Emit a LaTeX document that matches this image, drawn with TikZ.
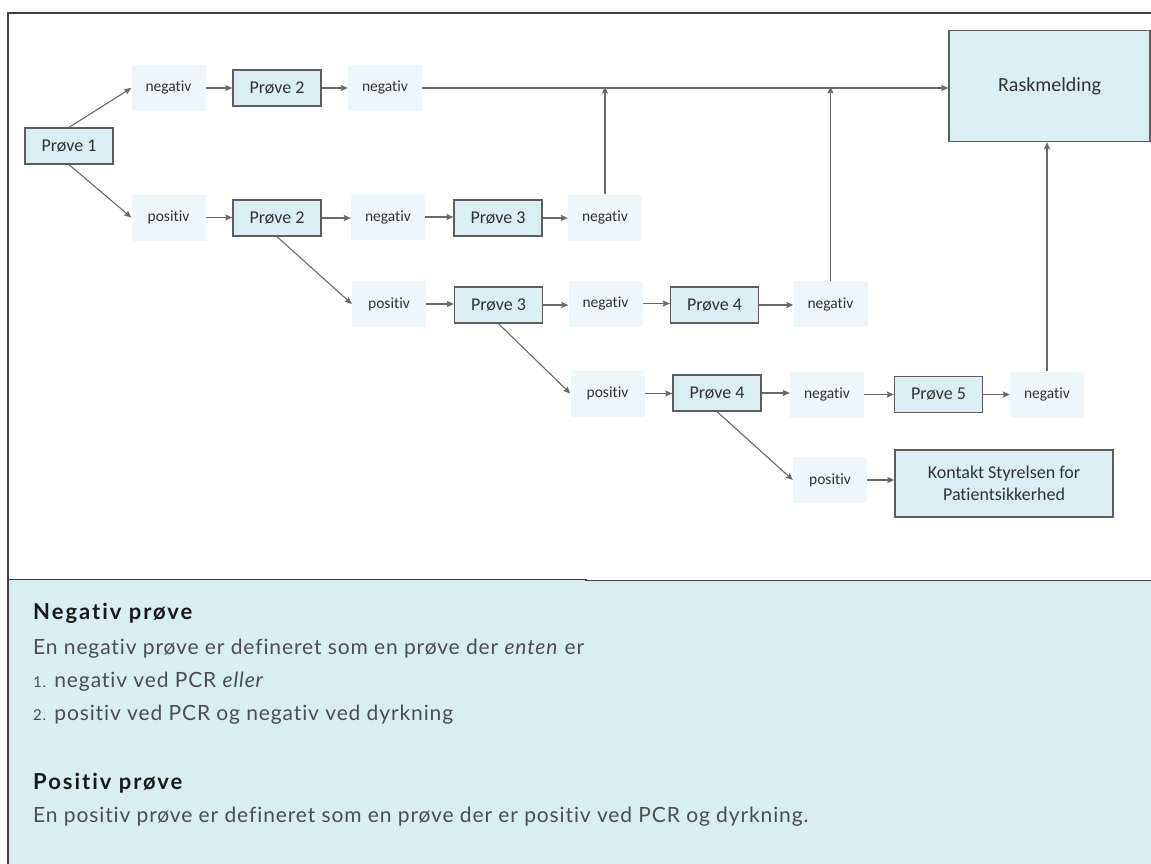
\documentclass[tikz,border=0pt]{standalone}
\usepackage{fontspec}
\setmainfont{Carlito}[Ligatures=NoCommon]
\newfontfamily\lato{Lato}[Ligatures=NoCommon, LetterSpace=4.2]
\newfontfamily\latohead{Lato}[Ligatures=NoCommon, LetterSpace=9]
\usetikzlibrary{arrows.meta}
\definecolor{boxfill}{HTML}{DAEEF3}
\definecolor{boxline}{HTML}{5E5E5E}
\definecolor{labfill}{HTML}{EEF7F9}
\definecolor{panelfill}{HTML}{D8EEF1}
\definecolor{conn}{HTML}{6A6A6A}
\definecolor{txt}{HTML}{333333}
\definecolor{bodytxt}{HTML}{4E4E4E}
\tikzset{
  stepbox/.style={draw=boxline, line width=1.3pt, fill=boxfill, inner sep=0pt,
    minimum width=88pt, minimum height=36pt, text=txt, font=\fontsize{18}{20}\selectfont},
  lab/.style={fill=labfill, inner sep=0pt, minimum width=74pt, minimum height=46pt,
    text=txt, font=\fontsize{15.5}{18}\selectfont},
  conn/.style={draw=conn, line width=1.1pt, -{Stealth[length=7pt,width=6pt,inset=1pt]}},
  bodyline/.style={anchor=base west, inner sep=0pt, text=bodytxt, font=\lato\fontsize{21}{24}\selectfont},
  headline/.style={anchor=base west, inner sep=0pt, text=black!90, font=\latohead\bfseries\fontsize{22}{24}\selectfont}
}
\begin{document}
\begin{tikzpicture}[x=1pt,y=-1pt]
\useasboundingbox (0,0) rectangle (1151,864);
\fill[white] (0,0) rectangle (1151,864);
% lower panel
\fill[panelfill] (8,580) rectangle (1151,864);
\draw[line width=1.6pt, draw=black!75] (8,864) -- (8,13) -- (1151,13);
\draw[line width=1.6pt, draw=black!75] (8,579.5) -- (586,579.5) -- (586,580.5) -- (1151,580.5);

% nodes row 1
\node[stepbox] (p1) at (69,146) {Prøve 1};
\node[lab] (n1) at (168.5,88) {negativ};
\node[stepbox] (p2a) at (277,88) {Prøve 2};
\node[lab] (n2) at (385,88) {negativ};
\node[stepbox, minimum width=201pt, minimum height=111pt, font=\fontsize{20}{22}\selectfont] (rask) at (1049.5,86) {Raskmelding};
% row 2
\node[lab] (pos1) at (168.5,217.5) {positiv};
\node[stepbox] (p2b) at (277,218) {Prøve 2};
\node[lab] (n3) at (388,217) {negativ};
\node[stepbox] (p3b) at (498,218) {Prøve 3};
\node[lab] (n4) at (605,217.5) {negativ};
% row 3
\node[lab] (pos2) at (389,304) {positiv};
\node[stepbox] (p3c) at (498.5,305) {Prøve 3};
\node[lab] (n5) at (605.5,303.5) {negativ};
\node[stepbox] (p4a) at (714.5,305) {Prøve 4};
\node[lab] (n6) at (830.5,304) {negativ};
% row 4
\node[lab] (pos3) at (607.5,393.5) {positiv};
\node[stepbox] (p4b) at (717,393) {Prøve 4};
\node[lab] (n7) at (827,394.5) {negativ};
\node[stepbox] (p5) at (938.5,394.5) {Prøve 5};
\node[lab] (n8) at (1047,394.5) {negativ};
% row 5
\node[lab] (pos4) at (830,480) {positiv};
\node[stepbox, minimum width=218pt, minimum height=67pt, align=center, font=\fontsize{18}{22}\selectfont] (kont) at (1004,483.5) {Kontakt Styrelsen for\\Patientsikkerhed};

% connectors
\draw[conn] (p1.north) -- (n1.west);
\draw[conn] (p1.south) -- (pos1.west);
\draw[conn] (n1.east) -- (p2a.west |- n1.east);
\draw[conn] (p2a.east) -- (n2.west |- p2a.east);
\draw[conn] (n2.east) -- (rask.west |- n2.east);
\draw[conn] (pos1.east) -- (p2b.west |- pos1.east);
\draw[conn] (p2b.east) -- (n3.west |- p2b.east);
\draw[conn] (n3.east) -- (p3b.west |- n3.east);
\draw[conn] (p3b.east) -- (n4.west |- p3b.east);
\draw[conn] (n4.north) -- ([yshift=1.5pt]n4.north |- n2.east);
\draw[conn] (p2b.south) -- (pos2.west);
\draw[conn] (pos2.east) -- (p3c.west |- pos2.east);
\draw[conn] (p3c.east) -- (n5.west |- p3c.east);
\draw[conn] (n5.east) -- (p4a.west |- n5.east);
\draw[conn] (p4a.east) -- (n6.west |- p4a.east);
\draw[conn] (n6.north) -- ([yshift=1.5pt]n6.north |- n2.east);
\draw[conn] (p3c.south) -- (pos3.west);
\draw[conn] (pos3.east) -- (p4b.west |- pos3.east);
\draw[conn] (p4b.east) -- (n7.west |- p4b.east);
\draw[conn] (n7.east) -- (p5.west |- n7.east);
\draw[conn] (p5.east) -- (n8.west |- p5.east);
\draw[conn] (n8.north) -- (n8.north |- rask.south);
\draw[conn] (p4b.south) -- (pos4.west);
\draw[conn] (pos4.east) -- (kont.west |- pos4.east);

% definitions text
\node[headline] (h1) at (33,619) {Negativ prøve};
\node[bodyline] (t1) at (33,654) {En negativ prøve er defineret som en prøve der \textit{enten} er};
\node[bodyline] (t2) at (33,687) {{\fontsize{15}{18}\selectfont 1.} negativ ved PCR \textit{eller}};
\node[bodyline] (t3) at (33,720) {{\fontsize{15}{18}\selectfont 2.} positiv ved PCR og negativ ved dyrkning};
\node[headline] (h2) at (33,789) {Positiv prøve};
\node[bodyline] (t4) at (33,822) {En positiv prøve er defineret som en prøve der er positiv ved PCR og dyrkning.};
\end{tikzpicture}
\end{document}
